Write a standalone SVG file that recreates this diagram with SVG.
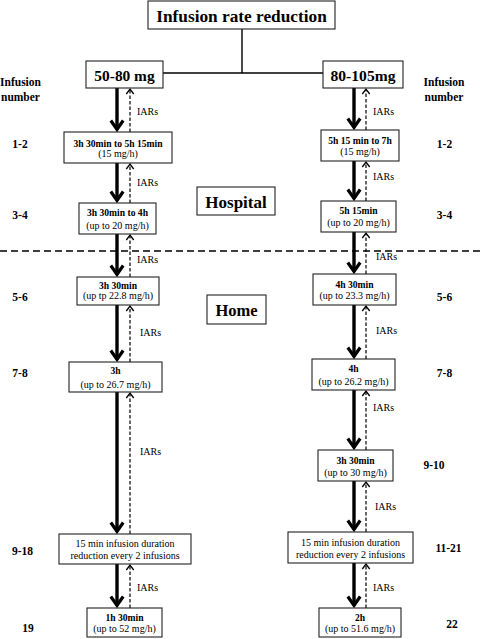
<svg xmlns="http://www.w3.org/2000/svg" width="480" height="639" viewBox="0 0 480 639">
<style>
  .box{fill:#fff;stroke:#222;stroke-width:1.1}
  .t{font-family:"Liberation Serif","Times New Roman",serif;fill:#000;text-anchor:middle}
  .b{font-weight:bold}
  .s{font-size:9.6px}
  .r{font-size:10px}
  .lab{font-family:"Liberation Serif","Times New Roman",serif;font-size:11.5px;font-weight:bold;text-anchor:middle;fill:#000}
  .iar{font-family:"Liberation Serif","Times New Roman",serif;font-size:10px;fill:#000}
  .thick{stroke:#000;stroke-width:3.4;fill:none;marker-end:url(#ah)}
  .dash{stroke:#000;stroke-width:1.2;stroke-dasharray:3.5 2;fill:none;marker-end:url(#oh)}
  .tree{stroke:#000;stroke-width:1.4;fill:none}
</style>
<defs>
  <marker id="ah" markerUnits="userSpaceOnUse" markerWidth="16" markerHeight="16" viewBox="0 0 16 16" refX="12" refY="8" orient="auto">
    <path d="M3,1.8 L12,8 L3,14.2" fill="none" stroke="#000" stroke-width="3.2" stroke-linejoin="miter"/>
  </marker>
  <marker id="oh" markerUnits="userSpaceOnUse" markerWidth="10" markerHeight="10" viewBox="0 0 10 10" refX="6" refY="5" orient="auto">
    <path d="M1,1.3 L6,5 L1,8.7" fill="none" stroke="#000" stroke-width="1.3"/>
  </marker>
</defs>

<g id="connectors">
  <path class="tree" d="M242,29 V73 M163,73 H323"/>
  <line x1="0" y1="251" x2="480" y2="251" stroke="#000" stroke-width="1.4" stroke-dasharray="7 4"/>
  <!-- left column -->
  <line class="thick" x1="117" y1="88" x2="117" y2="129.5"/>
  <line class="dash" x1="130" y1="132" x2="130" y2="89"/>
  <line class="thick" x1="117" y1="163" x2="117" y2="200.5"/>
  <line class="dash" x1="130" y1="203" x2="130" y2="164"/>
  <line class="thick" x1="117" y1="234" x2="117" y2="274.5"/>
  <line class="dash" x1="130" y1="277" x2="130" y2="235"/>
  <line class="thick" x1="117" y1="305" x2="117" y2="359.5"/>
  <line class="dash" x1="130" y1="362" x2="130" y2="306"/>
  <line class="thick" x1="117" y1="392" x2="117" y2="531.5"/>
  <line class="dash" x1="130" y1="534" x2="130" y2="393"/>
  <line class="thick" x1="117" y1="564" x2="117" y2="605.5"/>
  <line class="dash" x1="130" y1="608" x2="130" y2="565"/>
  <!-- right column -->
  <line class="thick" x1="354" y1="88" x2="354" y2="127.5"/>
  <line class="dash" x1="366" y1="130" x2="366" y2="89"/>
  <line class="thick" x1="354" y1="161" x2="354" y2="198.5"/>
  <line class="dash" x1="366" y1="201" x2="366" y2="162"/>
  <line class="thick" x1="354" y1="232" x2="354" y2="271.5"/>
  <line class="dash" x1="366" y1="274" x2="366" y2="233"/>
  <line class="thick" x1="354" y1="305" x2="354" y2="356.5"/>
  <line class="dash" x1="366" y1="359" x2="366" y2="306"/>
  <line class="thick" x1="354" y1="390" x2="354" y2="447.5"/>
  <line class="dash" x1="366" y1="450" x2="366" y2="391"/>
  <line class="thick" x1="354" y1="481" x2="354" y2="529.5"/>
  <line class="dash" x1="366" y1="532" x2="366" y2="482"/>
  <line class="thick" x1="354" y1="563" x2="354" y2="605.5"/>
  <line class="dash" x1="366" y1="608" x2="366" y2="564"/>
  <!-- IARs labels -->
  <text class="iar" x="137" y="115">IARs</text>
  <text class="iar" x="137" y="186">IARs</text>
  <text class="iar" x="137" y="263">IARs</text>
  <text class="iar" x="140" y="336">IARs</text>
  <text class="iar" x="140" y="455">IARs</text>
  <text class="iar" x="137" y="591">IARs</text>
  <text class="iar" x="373" y="115">IARs</text>
  <text class="iar" x="373" y="180">IARs</text>
  <text class="iar" x="376" y="260">IARs</text>
  <text class="iar" x="376" y="334">IARs</text>
  <text class="iar" x="373" y="411">IARs</text>
  <text class="iar" x="375" y="510">IARs</text>
  <text class="iar" x="373" y="591">IARs</text>
</g>

<g id="title">
  <rect class="box" x="148" y="1" width="187" height="28" stroke-width="1.5"/>
  <text class="t b" x="241.5" y="22" font-size="17.3">Infusion rate reduction</text>
</g>
<g id="dose-low">
  <rect class="box" x="86" y="61" width="77" height="27" stroke-width="1.5"/>
  <text class="t b" x="124.5" y="80.5" font-size="15.4">50-80 mg</text>
</g>
<g id="dose-high">
  <rect class="box" x="323" y="61" width="80" height="27" stroke-width="1.5"/>
  <text class="t b" x="363" y="80.5" font-size="15.6">80-105mg</text>
</g>
<g id="hospital">
  <rect class="box" x="197" y="187" width="78" height="28" stroke-width="1.4"/>
  <text class="t b" x="236" y="207.5" font-size="17">Hospital</text>
</g>
<g id="home">
  <rect class="box" x="207" y="295" width="59" height="29" stroke-width="1.4"/>
  <text class="t b" x="236.5" y="316" font-size="16.5">Home</text>
</g>

<g id="L1">
  <rect class="box" x="64" y="132" width="108" height="31"/>
  <text class="t b s" x="118" y="146.5">3h 30min to 5h 15min</text>
  <text class="t r" x="118" y="157">(15 mg/h)</text>
</g>
<g id="L2">
  <rect class="box" x="79" y="203" width="77" height="31"/>
  <text class="t b s" x="117.5" y="216">3h 30min to 4h</text>
  <text class="t r" x="117.5" y="228.5">(up to 20 mg/h)</text>
</g>
<g id="L3">
  <rect class="box" x="77" y="277" width="82" height="28"/>
  <text class="t b s" x="118" y="289">3h 30min</text>
  <text class="t r" x="118" y="299">(up tp 22.8 mg/h)</text>
</g>
<g id="L4">
  <rect class="box" x="69" y="362" width="93" height="30"/>
  <text class="t b s" x="115.5" y="373.5">3h</text>
  <text class="t r" x="115.5" y="387.5">(up to 26.7 mg/h)</text>
</g>
<g id="L5">
  <rect class="box" x="59" y="534" width="132" height="30"/>
  <text class="t r" x="125" y="547">15 min infusion duration</text>
  <text class="t r" x="125" y="559">reduction every 2 infusions</text>
</g>
<g id="L6">
  <rect class="box" x="87" y="608" width="75" height="29"/>
  <text class="t b s" x="124.5" y="621">1h 30min</text>
  <text class="t r" x="124.5" y="632">(up to 52 mg/h)</text>
</g>

<g id="R1">
  <rect class="box" x="321" y="130" width="78" height="31"/>
  <text class="t b s" x="360" y="144">5h 15 min to 7h</text>
  <text class="t r" x="360" y="155">(15 mg/h)</text>
</g>
<g id="R2">
  <rect class="box" x="321" y="201" width="75" height="31"/>
  <text class="t b s" x="358.5" y="214">5h 15min</text>
  <text class="t r" x="358.5" y="226">(up to 20 mg/h)</text>
</g>
<g id="R3">
  <rect class="box" x="313" y="274" width="83" height="31"/>
  <text class="t b s" x="354.5" y="287.5">4h 30min</text>
  <text class="t r" x="354.5" y="299">(up to 23.3 mg/h)</text>
</g>
<g id="R4">
  <rect class="box" x="312" y="359" width="83" height="31"/>
  <text class="t b s" x="353.5" y="371.5">4h</text>
  <text class="t r" x="353.5" y="384.5">(up to 26.2 mg/h)</text>
</g>
<g id="R5">
  <rect class="box" x="318" y="450" width="75" height="31"/>
  <text class="t b s" x="355.5" y="463.5">3h 30min</text>
  <text class="t r" x="355.5" y="476">(up to 30 mg/h)</text>
</g>
<g id="R6">
  <rect class="box" x="288" y="532" width="125" height="31"/>
  <text class="t r" x="350.5" y="546">15 min infusion duration</text>
  <text class="t r" x="350.5" y="558">reduction every 2 infusions</text>
</g>
<g id="R7">
  <rect class="box" x="319" y="608" width="82" height="29"/>
  <text class="t b s" x="360" y="621">2h</text>
  <text class="t r" x="360" y="632">(up to 51.6 mg/h)</text>
</g>

<g id="infusion-numbers">
  <text class="lab" x="20.5" y="86">Infusion</text>
  <text class="lab" x="20.5" y="101">number</text>
  <text class="lab" x="444" y="86">Infusion</text>
  <text class="lab" x="444" y="101">number</text>
  <text class="lab" x="20" y="148">1-2</text>
  <text class="lab" x="444.5" y="148">1-2</text>
  <text class="lab" x="20" y="219">3-4</text>
  <text class="lab" x="444.5" y="219">3-4</text>
  <text class="lab" x="20" y="301">5-6</text>
  <text class="lab" x="444.5" y="301">5-6</text>
  <text class="lab" x="20" y="377">7-8</text>
  <text class="lab" x="444.5" y="377">7-8</text>
  <text class="lab" x="434" y="469">9-10</text>
  <text class="lab" x="22.5" y="555">9-18</text>
  <text class="lab" x="448.5" y="551.5">11-21</text>
  <text class="lab" x="28" y="632">19</text>
  <text class="lab" x="452" y="628">22</text>
</g>
</svg>
